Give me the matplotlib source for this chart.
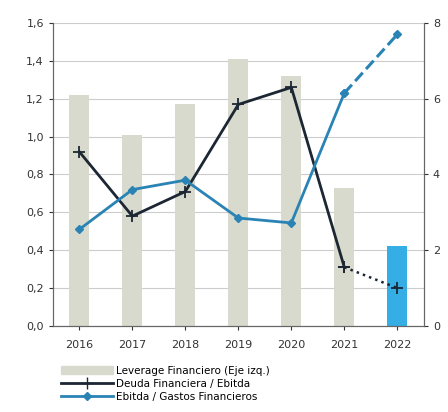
import matplotlib
matplotlib.use("Agg")
import matplotlib.pyplot as plt
from matplotlib.ticker import FuncFormatter
from matplotlib.lines import Line2D
from matplotlib.patches import Patch

years = ["2016", "2017", "2018", "2019", "2020", "2021", "2022"]
leverage = [1.22, 1.01, 1.17, 1.41, 1.32, 0.73, 0.42]
deuda_ebitda = [4.6, 2.9, 3.55, 5.85, 6.3, 1.55, 1.0]
ebitda_gastos = [2.55, 3.6, 3.85, 2.85, 2.72, 6.15, 7.7]

bar_colors = ["#d8dacd"] * 6 + ["#35aee6"]
dark = "#1c2733"
blue = "#2a83b5"

fig = plt.figure(figsize=(4.48, 4.12), dpi=100)
ax = fig.add_axes([0.118, 0.209, 0.828, 0.735])
ax2 = ax.twinx()
x = list(range(len(years)))

ax.bar(x, leverage, width=0.38, color=bar_colors, zorder=2)
ax.set_ylim(0, 1.6)
ax.set_yticks([0, 0.2, 0.4, 0.6, 0.8, 1.0, 1.2, 1.4, 1.6])
ax.yaxis.set_major_formatter(FuncFormatter(lambda v, p: f"{v:.1f}".replace(".", ",")))
ax.set_xlim(-0.5, 6.5)
ax.set_xticks(x)
ax.set_xticklabels(years)
ax.grid(axis="y", color="#cccccc", linewidth=0.8, zorder=0)
ax.set_axisbelow(True)

ax2.set_ylim(0, 8)
ax2.set_yticks([0, 2, 4, 6, 8])

ax2.plot(x[:6], deuda_ebitda[:6], color=dark, linewidth=2, marker="+", markersize=8, markeredgewidth=1.3, zorder=3)
ax2.plot(x[5:], deuda_ebitda[5:], color=dark, linewidth=1.8, linestyle=":", marker="+", markersize=8, markeredgewidth=1.3, zorder=3)
ax2.plot(x[:6], ebitda_gastos[:6], color=blue, linewidth=2, marker="D", markersize=4.5, zorder=4)
ax2.plot(x[5:], ebitda_gastos[5:], color=blue, linewidth=2.2, linestyle="--", marker="D", markersize=4.5, zorder=4)

for a in (ax, ax2):
    a.spines["top"].set_visible(False)
    for s in ("left", "right", "bottom"):
        a.spines[s].set_color("#666666")
    a.tick_params(labelsize=8, colors="#333333", length=3)
ax.tick_params(axis="x", pad=7)

handles = [
    Patch(color="#d8dacd"),
    Line2D([], [], color=dark, linewidth=2, marker="+", markersize=8),
    Line2D([], [], color=blue, linewidth=2, marker="D", markersize=4),
]
labels = ["Leverage Financiero (Eje izq.)", "Deuda Financiera / Ebitda", "Ebitda / Gastos Financieros"]
fig.legend(handles, labels, loc="upper left", bbox_to_anchor=(0.125, 0.125), frameon=False,
           fontsize=7.5, handlelength=5, handletextpad=0.3, labelspacing=0.3, borderpad=0)

fig.savefig("out.png", dpi=100)
